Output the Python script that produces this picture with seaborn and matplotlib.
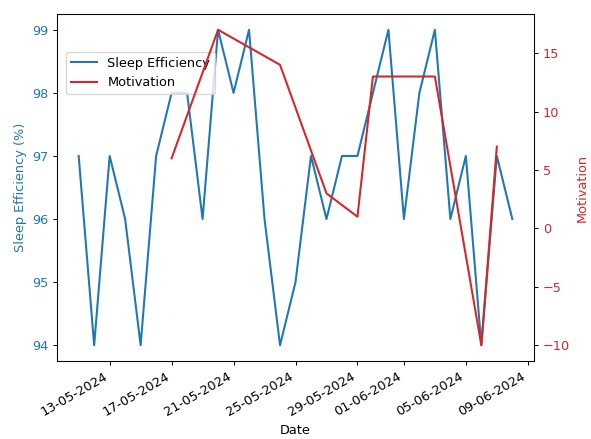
import matplotlib
matplotlib.use("Agg")
import matplotlib.pyplot as plt
import matplotlib.dates as mdates
import seaborn as sns
import pandas as pd

sleep_dates = pd.date_range("2024-05-11", "2024-06-08", freq="D")
sleep_eff = [97, 94, 97, 96, 94, 97, 98, 98, 96, 99, 98, 99, 96, 94, 95,
             97, 96, 97, 97, 98, 99, 96, 98, 99, 96, 97, 94, 97, 96]

motiv_dates = pd.to_datetime(["2024-05-17", "2024-05-20", "2024-05-24", "2024-05-27",
                              "2024-05-29", "2024-05-30", "2024-06-03", "2024-06-06",
                              "2024-06-07"])
motivation = [6, 17, 14, 3, 1, 13, 13, -10, 7]

sleep_df = pd.DataFrame({"Date": sleep_dates, "Sleep Efficiency": sleep_eff})
motiv_df = pd.DataFrame({"Date": motiv_dates, "Motivation": motivation})

plt.rcParams["font.family"] = ["DejaVu Sans"]

DPI = 92.5
fig = plt.figure(figsize=(591/DPI, 439/DPI), dpi=DPI)
ax1 = fig.add_axes([57/591, 1-361/439, (534-57)/591, (361-14)/439])
ax2 = ax1.twinx()

blue = "tab:blue"
red = "tab:red"
sns.lineplot(data=sleep_df, x="Date", y="Sleep Efficiency", ax=ax1, color=blue,
             label="Sleep Efficiency", legend=False, linewidth=1.6)
sns.lineplot(data=motiv_df, x="Date", y="Motivation", ax=ax2, color=red,
             label="Motivation", legend=False, linewidth=1.6)

ax1.set_xlabel("Date")
ax1.set_ylabel("Sleep Efficiency (%)", color=blue)
ax1.tick_params(axis="y", labelcolor=blue)
ax2.set_ylabel("Motivation", color=red)
ax2.tick_params(axis="y", labelcolor=red)

ax1.xaxis.set_major_locator(mdates.AutoDateLocator())
ax1.xaxis.set_major_formatter(mdates.DateFormatter("%d-%m-%Y"))
for lbl in ax1.get_xticklabels():
    lbl.set_rotation(30)
    lbl.set_ha("right")

h1, l1 = ax1.get_legend_handles_labels()
h2, l2 = ax2.get_legend_handles_labels()
ax1.legend(h1 + h2, l1 + l2, loc="upper left", bbox_to_anchor=(0.006, 0.91))

fig.savefig("out.png", dpi=DPI)
